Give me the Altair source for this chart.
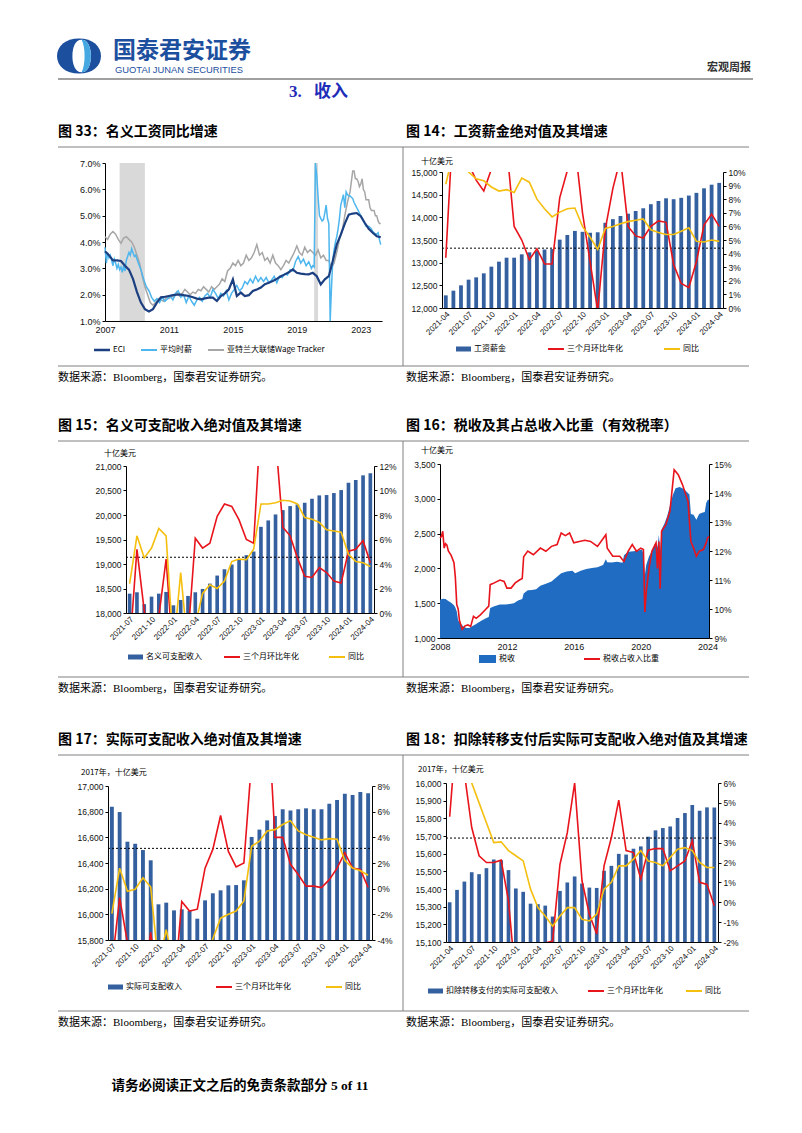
import altair as alt
import pandas as pd

# ======================= DATA =======================
# 图33 名义工资同比增速 (%)
eci_dates = [f"{y}-{m:02d}" for y in range(2007, 2025) for m in (1, 4, 7, 10)][:70]
eci_vals = [3.65, 3.50, 3.30, 3.30, 3.28, 3.10, 2.95, 2.60, 2.10, 1.70, 1.45, 1.36,
            1.45, 1.70, 1.90, 1.92, 1.95, 1.98, 2.00, 2.00, 1.97, 1.95, 1.90, 1.85,
            1.82, 1.86, 1.89, 1.89, 1.76, 1.95, 2.05, 2.20, 2.58, 1.95, 2.08, 1.95,
            1.98, 2.14, 2.20, 2.27, 2.40, 2.45, 2.52, 2.60, 2.70, 2.77, 2.85, 2.96,
            2.83, 2.80, 2.78, 2.77, 2.83, 2.70, 2.39, 2.58, 2.70, 3.28, 3.90, 4.28,
            4.70, 5.04, 5.08, 5.10, 4.98, 4.73, 4.50, 4.35, 4.22, 4.18]

ahe_dates = ([f"{y}-{m:02d}" for y in (2007, 2008) for m in range(1, 13)]
             + [f"{y}-{m:02d}" for y in range(2009, 2020) for m in (2, 4, 6, 8, 10, 12)]
             + [f"{y}-{m:02d}" for y in range(2020, 2024) for m in range(1, 13)]
             + ["2024-01", "2024-02", "2024-03", "2024-04"])
ahe_vals = [3.80, 3.20, 3.60, 3.40, 3.50, 3.30, 3.10, 3.35, 3.20, 3.00, 3.15, 2.95,
            3.05, 2.85, 3.10, 2.90, 3.30, 3.45, 3.60, 3.50, 3.75, 3.60, 3.45, 3.50,
            3.20, 2.95, 2.60, 2.30, 2.15, 1.90,
            1.75, 1.85, 1.70, 1.90, 1.75, 1.85,
            1.95, 1.80, 2.05, 2.15, 1.90, 2.00,
            1.70, 1.95, 1.75, 1.60, 1.80, 1.90,
            1.75, 1.95, 2.05, 1.90, 2.20, 2.05,
            1.85, 2.05, 1.95, 2.15, 1.80, 2.05,
            2.20, 2.35, 2.15, 2.25, 2.50, 2.40,
            2.60, 2.45, 2.70, 2.50, 2.65, 2.50,
            2.65, 2.45, 2.55, 2.70, 2.45, 2.70,
            2.65, 2.80, 2.75, 2.95, 2.90, 3.25,
            3.45, 3.20, 3.35, 3.10, 3.25, 3.00,
            3.10, 3.05, 7.00, 6.50, 5.70, 5.00, 4.90, 4.80, 4.85, 5.10, 5.40, 4.90,
            4.70, 1.00, 2.20, 3.30, 3.70, 4.00, 4.20, 4.50, 4.90, 5.40, 5.60, 5.80,
            5.30, 5.90, 5.80, 5.75, 5.75, 5.70, 5.65, 5.50, 5.40, 5.30, 5.20, 5.10,
            5.00, 4.90, 4.80, 4.70, 4.60, 4.60, 4.60, 4.55, 4.50, 4.40, 4.35, 4.30,
            4.30, 4.35, 4.10, 3.90]

wt_dates = ([f"{y}-{m:02d}" for y in range(2007, 2022) for m in (1, 3, 5, 7, 9, 11)]
            + ["2022-01", "2022-03", "2022-05", "2022-06", "2022-07", "2022-08", "2022-09",
               "2022-10", "2022-11", "2022-12", "2023-01", "2023-02", "2023-03", "2023-04",
               "2023-05", "2023-07", "2023-08", "2023-09", "2023-10", "2023-11", "2023-12",
               "2024-01", "2024-02", "2024-03", "2024-04"])
wt_vals = [4.2, 4.1, 4.3, 4.4, 4.3, 4.1, 3.95, 4.15, 4.2, 4.1, 4.0, 3.8,
           3.5, 3.2, 2.7, 2.3, 2.0, 1.7, 1.6, 1.7, 1.85, 1.8, 1.75, 1.9,
           1.85, 1.95, 1.9, 2.1, 1.95, 2.05, 2.2, 2.1, 2.0, 2.1, 2.05, 2.2,
           2.15, 2.3, 2.2, 2.1, 2.3, 2.2, 2.3, 2.4, 2.6, 2.5, 2.9, 3.0,
           3.2, 3.1, 3.3, 3.1, 3.2, 3.5, 3.3, 3.4, 3.6, 3.9, 3.5, 3.6,
           3.3, 3.4, 3.2, 3.5, 3.2, 3.1, 2.95, 3.1, 3.3, 3.2, 3.4, 3.6,
           3.85, 3.6, 3.5, 3.8, 3.6, 3.7, 3.6, 3.5, 3.7, 3.4, 3.5, 3.3,
           3.3, 3.0, 3.2, 3.6, 4.1, 4.4,
           5.0, 5.5, 5.9, 6.3, 6.7, 6.7, 6.4, 6.4, 6.3, 6.1,
           6.2, 6.4, 6.0, 5.9, 5.6, 5.6, 5.3, 5.2, 5.2, 5.2, 5.0,
           5.0, 4.8, 4.7, 4.7]
recession_start = ["2007-12", "2020-02"]
recession_end = ["2009-06", "2020-04"]
years33 = [2007, 2011, 2015, 2019, 2023]

all_months = [f"{y}-{m:02d}" for y in range(2021, 2025) for m in range(1, 13)]
months_2104 = all_months[3:40]   # 2021-04 .. 2024-04
months_2107 = all_months[6:40]   # 2021-07 .. 2024-04

# 图14 工资薪金 (十亿美元) + 增速 (%)
wage14 = [12279, 12382, 12500, 12625, 12676, 12765, 12912, 13022, 13110, 13110, 13184, 13228,
          13265, 13290, 13300, 13508, 13610, 13700, 13680, 13660, 13670, 13880, 13960, 14030,
          14080, 14140, 14200, 14290, 14360, 14420, 14400, 14430, 14480, 14540, 14640, 14720, 14760]
red14 = [3.7, 14.0, 13.0, 10.6, 9.4, 8.6, 10.2, 14.0, 12.0, 6.0, 5.0, 3.55,
         4.36, 3.24, 3.24, 8.1, 10.1, 12.0, 7.0, 3.4, -0.2, 5.8, 8.8, 11.0,
         6.0, 5.3, 5.15, 6.0, 6.4, 6.3, 3.2, 1.8, 1.5, 3.4, 6.1, 6.9, 6.0]
yoy14 = [9.1, 11.5, 10.8, 10.0, 9.5, 9.35, 8.9, 8.6, 8.7, 8.5, 9.55, 9.25,
         8.0, 7.3, 6.7, 7.05, 7.3, 7.35, 6.0, 5.2, 4.3, 5.85, 6.0, 6.2,
         6.35, 6.45, 6.55, 5.75, 5.55, 5.4, 5.4, 5.65, 5.9, 4.9, 4.85, 5.0, 4.9]
ref14 = 4.4

# 图15 名义可支配收入
inc15 = [18395, 18423, 18180, 18334, 18395, 18430, 18157, 18266, 18348, 18423, 18491, 18600,
         18764, 18893, 18989, 19091, 19180, 19255, 19759, 19889, 20011, 20100, 20182, 20216,
         20250, 20332, 20400, 20407, 20448, 20509, 20659, 20714, 20809, 20850]
red15 = [-3.0, 5.2, 0.2, -3.0, -0.3, 4.4, -4.0, -4.0, -2.0, 6.1, 5.3, 5.7,
         7.9, 8.9, 8.7, 7.6, 6.0, 5.7, 16.0, 18.0, 14.3, 7.0, 6.3, 4.5,
         3.0, 2.9, 3.7, 3.3, 2.6, 2.45, 5.05, 5.2, 5.9, 4.1]
yoy15 = [2.4, 6.3, 4.5, 5.3, 6.9, 6.3, -3.0, 3.3, -3.0, -1.0, 1.6, 2.3,
         2.0, 2.6, 4.2, 4.4, 4.35, 5.2, 8.9, 8.9, 9.0, 9.2, 9.15, 8.9,
         7.8, 7.65, 7.4, 6.8, 6.7, 6.6, 4.8, 4.2, 4.1, 3.8]
ref15 = 4.55

# 图16 税收 (十亿美元) 及有效税率 (%)
tax_dates = ["2008-01", "2008-03", "2008-05", "2008-07", "2008-09", "2008-11", "2008-12",
             "2009-01", "2009-02", "2009-04", "2009-06", "2009-08", "2009-10", "2009-12",
             "2010-02", "2010-04", "2010-07", "2010-10", "2010-12",
             "2011-01", "2011-04", "2011-08", "2011-12",
             "2012-03", "2012-06", "2012-09", "2012-12",
             "2013-01", "2013-04", "2013-07", "2013-10",
             "2014-01", "2014-05", "2014-09",
             "2015-01", "2015-04", "2015-08", "2015-12",
             "2016-02", "2016-06", "2016-10",
             "2017-02", "2017-06", "2017-10", "2017-12",
             "2018-01", "2018-04", "2018-08", "2018-12",
             "2019-01", "2019-04", "2019-08", "2019-12",
             "2020-02", "2020-03", "2020-04", "2020-05", "2020-07", "2020-09", "2020-11", "2020-12",
             "2021-01", "2021-02", "2021-03", "2021-04", "2021-06", "2021-08", "2021-10", "2021-12",
             "2022-02", "2022-05", "2022-08", "2022-10", "2022-12",
             "2023-01", "2023-03", "2023-05", "2023-07", "2023-09", "2023-11", "2023-12",
             "2024-01", "2024-02"]
tax_vals = [1550, 1565, 1560, 1530, 1505, 1470, 1440,
            1380, 1250, 1200, 1160, 1145, 1145, 1170,
            1190, 1215, 1250, 1285, 1300,
            1430, 1455, 1480, 1480,
            1490, 1500, 1540, 1560,
            1640, 1685, 1690, 1700,
            1750, 1780, 1810,
            1880, 1930, 1955, 1965,
            1930, 1965, 1990,
            2005, 2015, 2050, 2130,
            2090, 2085, 2095, 2080,
            2190, 2240, 2245, 2260,
            2270, 2200, 1900, 2050, 2170, 2250, 2340, 2380,
            2300, 2480, 2250, 2560, 2640, 2750, 2900, 3050,
            3150, 3170, 3140, 3100, 3060,
            2780, 2770, 2700, 2780, 2800, 2810, 2940,
            2980, 2990]
ratio_dates = ["2008-01", "2008-02", "2008-03", "2008-04", "2008-05", "2008-06", "2008-07",
               "2008-09", "2008-11", "2008-12",
               "2009-01", "2009-02", "2009-03", "2009-05", "2009-07", "2009-09", "2009-11",
               "2010-01", "2010-03", "2010-06", "2010-09", "2010-12",
               "2011-01", "2011-04", "2011-08", "2011-11",
               "2012-01", "2012-04", "2012-07", "2012-10", "2012-12",
               "2013-01", "2013-04", "2013-08",
               "2014-01", "2014-05", "2014-09",
               "2015-01", "2015-04", "2015-07", "2015-10",
               "2016-01", "2016-05", "2016-09",
               "2017-01", "2017-06", "2017-12",
               "2018-01", "2018-05", "2018-10",
               "2019-01", "2019-04", "2019-07", "2019-10",
               "2020-01", "2020-03", "2020-04", "2020-05", "2020-07", "2020-09", "2020-12",
               "2021-01", "2021-02", "2021-03", "2021-04", "2021-07", "2021-10",
               "2022-01", "2022-04", "2022-07", "2022-09", "2022-11",
               "2023-01", "2023-03", "2023-05", "2023-07", "2023-10", "2023-12",
               "2024-01", "2024-02"]
ratio_vals = [12.45, 12.5, 12.68, 12.1, 12.25, 12.2, 12.0, 11.85, 11.6, 11.1,
              10.15, 10.0, 9.6, 9.3, 9.42, 9.45, 9.4,
              9.75, 9.68, 9.8, 9.95, 10.1,
              10.84, 10.9, 11.0, 10.95,
              10.72, 10.72, 10.9, 11.0, 11.05,
              11.8, 12.0, 11.87,
              12.1, 11.99, 12.16,
              12.22, 12.62, 12.53, 12.62,
              12.28, 12.33, 12.37,
              12.33, 12.16, 12.56,
              12.1, 11.82, 11.82,
              11.64, 11.99, 12.22, 11.99,
              12.1, 12.05, 9.9, 10.6, 11.4, 11.99, 12.28,
              11.4, 12.33, 10.7, 12.68, 12.9, 13.37,
              14.8, 14.63, 14.29, 14.0, 13.7,
              12.33, 12.1, 11.82, 11.99, 12.05, 12.28,
              12.45, 12.5]
years16 = [2008, 2012, 2016, 2020, 2024]

# 图17 实际可支配收入 (2017年, 十亿美元)
real17 = [16839, 16797, 16566, 16550, 16501, 16421, 16078, 16091, 16031, 16039, 16026, 15966,
          16109, 16164, 16187, 16226, 16228, 16265, 16603, 16660, 16732, 16766, 16818, 16810,
          16818, 16826, 16818, 16818, 16862, 16891, 16940, 16930, 16953, 16943]
red17 = [-6.0, -0.7, -4.2, -8.0, -8.0, -3.4, -8.0, -8.0, -8.0, -1.0, -1.75, -1.6,
         1.6, 3.06, 5.7, 2.9, 1.7, 2.0, 10.0, 13.0, 15.0, 4.0, 4.0, 1.9,
         1.1, 0.2, 0.2, 0.08, 0.7, 1.6, 2.8, 1.6, 1.5, 0.1]
yoy17 = [-1.95, 1.6, -0.2, -0.05, 0.85, 0.13, -6.0, -3.2, -6.0, -6.0, -6.0, -6.0,
         -6.0, -3.9, -2.3, -2.0, -1.74, -0.96, 3.3, 3.7, 4.5, 4.6, 5.0, 5.3,
         4.5, 4.2, 4.0, 3.8, 3.9, 3.85, 2.2, 1.6, 1.4, 1.05]
ref17 = 3.14

# 图18 扣除转移支付后实际可支配收入
real18 = [15325, 15395, 15442, 15495, 15484, 15518, 15567, 15563, 15507, 15403, 15384, 15317,
          15314, 15306, 15244, 15389, 15437, 15471, 15431, 15408, 15406, 15503, 15531, 15599,
          15595, 15628, 15641, 15696, 15732, 15745, 15754, 15802, 15830, 15875, 15843, 15862, 15862]
red18 = [4.3, 9.0, 6.5, 3.76, 2.34, 2.0, 2.0, 2.12, 0.07, -4.0, -4.0, -3.5,
         -2.5, -2.05, -1.95, 1.9, 3.5, 6.0, 1.08, -0.6, -1.6, 1.83, 3.26, 5.14,
         2.6, 2.5, 1.16, 2.62, 2.7, 2.7, 1.58, 1.83, 2.08, 3.1, 1.0, 0.9, -0.18]
yoy18 = [12.0, 10.0, 8.0, 6.0, 5.0, 4.0, 3.0, 3.04, 2.6, 2.34, 2.08, 0.66,
         -0.27, -0.69, -1.2, -0.69, -0.27, -0.27, -0.86, -0.94, -0.6, 0.66, 1.0, 1.83,
         1.83, 2.17, 2.6, 2.08, 2.0, 1.83, 2.25, 2.67, 2.75, 2.6, 2.0, 1.75, 1.75]
ref18 = 3.23

# ======================= STYLE / GEOMETRY =======================
SANS = "Liberation Sans"
CJK = "Noto Sans CJK SC"
SERIF = "Liberation Serif, Noto Sans CJK SC"
NAVY, LBLUE, GREY = "#1B3F80", "#4DB6EE", "#A6A6A6"
BAR, RED, YEL, AREA = "#35609F", "#E8141C", "#F5BF0F", "#1F6CC2"
HDR_BLUE = "#1D4F9F"
DUMMY = pd.DataFrame({"z": [0]})

# plot-area boxes on the page: x, y, width, height
BOX = {"c33": (104, 162, 277, 158), "c14": (441, 171, 281, 136),
       "c15": (125, 465, 248, 147), "c16": (439, 463, 269, 174),
       "c17": (107, 785, 264, 154), "c18": (445, 782, 272, 159)}
ROWS = [("c33", "c14", 171), ("c15", "c16", 465), ("c17", "c18", 782)]   # row tops (page)
LEFT_W = max(BOX[k][0] - 8 + BOX[k][2] for k in ("c33", "c15", "c17"))

GEOM = {}
for kl, kr, rt in ROWS:
    for k, x0 in ((kl, 8), (kr, 8 + LEFT_W)):
        bx, by, bw, bh = BOX[k]
        xoff = bx - x0
        ytop = by - rt
        GEOM[k] = dict(xoff=xoff, ytop=ytop, w=bw, h=bh, cw=xoff + bw, ch=ytop + bh)


def dt(lst):
    return pd.to_datetime([s + "-01" for s in lst])


def pct_axis(vals):
    return alt.Axis(values=vals, orient="right", labelExpr="datum.value + '%'",
                    title=None, labelOverlap=False)


def combo(key, months, bars, red, yoy, ref, ldom, lvals, rdom, rvals):
    g = GEOM[key]
    df = pd.DataFrame({"m": months, "bar": bars, "red": red, "yoy": yoy})
    xenc = alt.X("m:N", sort=months, title=None,
                 scale=alt.Scale(range=[g["xoff"], g["xoff"] + g["w"]],
                                 paddingInner=0.5, paddingOuter=0.25),
                 axis=alt.Axis(values=months[::3], labelAngle=-45, ticks=False,
                               labelFontSize=8, labelPadding=2, labelOverlap=False))
    bar = alt.Chart(df).mark_bar(color=BAR).encode(
        x=xenc,
        y=alt.Y("bar:Q", title=None,
                scale=alt.Scale(domain=ldom, nice=False, zero=False, range=[g["ch"], g["ytop"]]),
                axis=alt.Axis(values=lvals, format=",.0f", labelOverlap=False,
                              offset=-g["xoff"])),
        y2=alt.datum(ldom[0]))
    rscale = alt.Scale(domain=rdom, nice=False, zero=False, range=[g["ch"], g["ytop"]])
    refl = alt.Chart(pd.DataFrame({"v": [ref]})).mark_rule(
        color="#000", strokeDash=[2, 2], strokeWidth=1).encode(
        x=alt.value(g["xoff"]), x2=alt.value(g["xoff"] + g["w"]),
        y=alt.Y("v:Q", scale=rscale, axis=pct_axis(rvals)))
    lred = alt.Chart(df).mark_line(color=RED, clip=True, strokeWidth=1.6).encode(
        x=xenc, y=alt.Y("red:Q", scale=rscale, axis=pct_axis(rvals)))
    lyel = alt.Chart(df).mark_line(color=YEL, clip=True, strokeWidth=1.6).encode(
        x=xenc, y=alt.Y("yoy:Q", scale=rscale, axis=pct_axis(rvals)))
    right = alt.layer(refl, lred, lyel)
    return alt.layer(bar, right).resolve_scale(y="independent").properties(
        width=g["cw"], height=g["ch"])


# ---------- 图33 ----------
g33 = GEOM["c33"]
rec_df = pd.DataFrame({"a": dt(recession_start), "b": dt(recession_end)})
rec_df["b"] = rec_df["b"] + pd.offsets.MonthEnd(0)
ax33 = alt.Axis(values=[alt.DateTime(year=y, month=1, date=1) for y in years33], format="%Y",
                ticks=False, labelPadding=4, labelFontSize=9, labelFlush=False,
                labelOverlap=False, title=None)
sc33 = alt.Scale(domain=[alt.DateTime(year=2007, month=1, date=1),
                         alt.DateTime(year=2024, month=4, date=30)],
                 range=[g33["xoff"], g33["xoff"] + g33["w"]])
ys33 = alt.Scale(domain=[1, 7], nice=False, zero=False, range=[g33["ch"], g33["ytop"]])
yax33 = alt.Axis(values=[1, 2, 3, 4, 5, 6, 7], title=None, labelFontSize=9,
                 labelExpr="format(datum.value, '.1f') + '%'", offset=-g33["xoff"])
rect33 = alt.Chart(rec_df).mark_rect(color="#D9D9D9").encode(
    x=alt.X("a:T", scale=sc33, axis=ax33), x2="b:T",
    y=alt.value(g33["ytop"]), y2=alt.value(g33["ch"]))


def line33(dates, vals, color, width):
    return alt.Chart(pd.DataFrame({"d": dt(dates), "v": vals})).mark_line(
        color=color, strokeWidth=width).encode(
        x=alt.X("d:T", scale=sc33, axis=ax33), y=alt.Y("v:Q", scale=ys33, axis=yax33))


c33 = alt.layer(rect33, line33(wt_dates, wt_vals, GREY, 1.5),
                line33(ahe_dates, ahe_vals, LBLUE, 1.5),
                line33(eci_dates, eci_vals, NAVY, 2.2)).properties(
    width=g33["cw"], height=g33["ch"])

# ---------- combos ----------
c14 = combo("c14", months_2104, wage14, red14, yoy14, ref14, [12000, 15000],
            list(range(12000, 15001, 500)), [0, 10], list(range(0, 11)))
c15 = combo("c15", months_2107, inc15, red15, yoy15, ref15, [18000, 21000],
            list(range(18000, 21001, 500)), [0, 12], list(range(0, 13, 2)))
c17 = combo("c17", months_2107, real17, red17, yoy17, ref17, [15800, 17000],
            list(range(15800, 17001, 200)), [-4, 8], list(range(-4, 9, 2)))
c18 = combo("c18", months_2104, real18, red18, yoy18, ref18, [15100, 16000],
            list(range(15100, 16001, 100)), [-2, 6], list(range(-2, 7)))

# ---------- 图16 ----------
g16 = GEOM["c16"]
sc16 = alt.Scale(domain=[alt.DateTime(year=2008, month=1, date=1),
                         alt.DateTime(year=2024, month=2, date=1)],
                 range=[g16["xoff"], g16["xoff"] + g16["w"]])
ax16 = alt.Axis(values=[alt.DateTime(year=y, month=1, date=1) for y in years16], format="%Y",
                ticks=False, labelPadding=4, labelFontSize=9, labelFlush=False,
                labelOverlap=False, title=None)
area16 = alt.Chart(pd.DataFrame({"d": dt(tax_dates), "v": tax_vals})).mark_area(
    color=AREA, opacity=1).encode(
    x=alt.X("d:T", scale=sc16, axis=ax16),
    y=alt.Y("v:Q", scale=alt.Scale(domain=[1000, 3500], nice=False, zero=False,
                                   range=[g16["ch"], g16["ytop"]]),
            axis=alt.Axis(values=list(range(1000, 3501, 500)), format=",.0f", title=None,
                          offset=-g16["xoff"])),
    y2=alt.datum(1000))
line16 = alt.Chart(pd.DataFrame({"d": dt(ratio_dates), "v": ratio_vals})).mark_line(
    color=RED, strokeWidth=1.6).encode(
    x=alt.X("d:T", scale=sc16, axis=ax16),
    y=alt.Y("v:Q", scale=alt.Scale(domain=[9, 15], nice=False, zero=False,
                                   range=[g16["ch"], g16["ytop"]]),
            axis=pct_axis(list(range(9, 16)))))
c16 = alt.layer(area16, line16).resolve_scale(y="independent").properties(
    width=g16["cw"], height=g16["ch"])


# ======================= PAGE DECORATION =======================
def T(txt, x, y, size=8.0, color="#000", bold=False, align="left", font=CJK):
    return alt.Chart(DUMMY).mark_text(
        text=txt, align=align, baseline="middle", fontSize=size, color=color,
        fontWeight="bold" if bold else "normal", font=font).encode(
        x=alt.value(x - 8), y=alt.value(y - 8))


def L(x1, x2, y1, y2, color="#000", w=1.0):
    return alt.Chart(DUMMY).mark_rule(color=color, strokeWidth=w).encode(
        x=alt.value(x1 - 8), x2=alt.value(x2 - 8), y=alt.value(y1 - 8), y2=alt.value(y2 - 8))


def RB(x1, x2, y1, y2, color):
    return alt.Chart(DUMMY).mark_rect(color=color).encode(
        x=alt.value(x1 - 8), x2=alt.value(x2 - 8), y=alt.value(y1 - 8), y2=alt.value(y2 - 8))


def P(path, x, y, size, color):
    return alt.Chart(DUMMY).mark_point(shape=path, size=size, filled=True, color=color,
                                       opacity=1, strokeWidth=0).encode(
        x=alt.value(x - 8), y=alt.value(y - 8))


LOGO_OUT = "M0,-0.8 C-0.62,-0.8 -1,-0.45 -1,0 C-1,0.45 -0.62,0.8 0,0.8 C0.62,0.8 1,0.45 1,0 C1,-0.45 0.62,-0.8 0,-0.8 Z"
LOGO_MID = "M0.12,-0.74 C-0.18,-0.74 -0.3,-0.38 -0.3,0 C-0.3,0.38 -0.18,0.74 0.12,0.74 C0.42,0.74 0.54,0.38 0.54,0 C0.54,-0.38 0.42,-0.74 0.12,-0.74 Z"
LOGO_IN = "M0.12,-0.74 C0.42,-0.74 0.54,-0.38 0.54,0 C0.54,0.38 0.42,0.74 0.12,0.74 C0.3,0.4 0.3,-0.4 0.12,-0.74 Z"

SRC = "数据来源：Bloomberg，国泰君安证券研究。"
RULE = "#808080"
deco_items = [
    P(LOGO_OUT, 78, 55, 1936, HDR_BLUE), P(LOGO_MID, 78, 55, 1936, "#FFFFFF"),
    P(LOGO_IN, 78, 55, 1936, "#45A8E0"),
    T("国泰君安证券", 112, 50, 23, HDR_BLUE, True),
    T("GUOTAI JUNAN SECURITIES", 114, 68.5, 9.4, HDR_BLUE, False, "left", SANS),
    T("宏观周报", 750, 67, 11, "#333", True, "right"),
    L(57, 752, 78, 78, RULE, 1.5),
    T("3.", 288, 91, 17, "#1F2DB8", True, "left", SERIF),
    T("收入", 313, 91, 17, "#1F2DB8", True),
]
rows_meta = [
    (131, 146, 365, 377, "图 33：名义工资同比增速", "图 14：工资薪金绝对值及其增速"),
    (425, 440, 676, 688, "图 15：名义可支配收入绝对值及其增速", "图 16：税收及其占总收入比重（有效税率）"),
    (739, 754, 1010, 1022, "图 17：实际可支配收入绝对值及其增速", "图 18：扣除转移支付后实际可支配收入绝对值及其增速"),
]
for ty, top, bot, sy, tl, tr in rows_meta:
    deco_items += [T(tl, 57, ty, 14, "#000", True), T(tr, 405, ty, 14, "#000", True),
                   L(57, 748, top, top, RULE, 1), L(57, 748, bot, bot, RULE, 1),
                   L(402, 402, top, bot, RULE, 1),
                   T(SRC, 57, sy, 11, "#000", False, "left", SERIF),
                   T(SRC, 405, sy, 11, "#000", False, "left", SERIF)]

deco_items += [T("十亿美元", 420, 161, 8), T("十亿美元", 103, 453, 8), T("十亿美元", 420, 450, 8),
               T("2017年，十亿美元", 80, 772, 8), T("2017年，十亿美元", 417, 769, 8)]


def leg_line(x, y, color, label, w=2.0):
    return [L(x, x + 16, y, y, color, w), T(label, x + 19, y, 8)]


def leg_bar(x, y, label, color=BAR, hh=2.5, ww=15):
    return [RB(x, x + ww, y - hh, y + hh, color), T(label, x + ww + 3, y, 8)]


deco_items += leg_line(93, 349, NAVY, "ECI", 2.5) + leg_line(140, 349, LBLUE, "平均时薪") \
    + leg_line(207, 349, GREY, "亚特兰大联储Wage Tracker")
deco_items += leg_bar(455, 348, "工资薪金") + leg_line(547, 348, RED, "三个月环比年化") \
    + leg_line(663, 348, YEL, "同比")
deco_items += leg_bar(127, 656, "名义可支配收入") + leg_line(223, 656, RED, "三个月环比年化") \
    + leg_line(328, 656, YEL, "同比")
deco_items += leg_bar(478, 658, "税收", AREA, 4, 17) + leg_line(583, 658, RED, "税收占收入比重")
deco_items += leg_bar(107, 986, "实际可支配收入") + leg_line(215, 986, RED, "三个月环比年化") \
    + leg_line(325, 986, YEL, "同比")
deco_items += leg_bar(427, 990, "扣除转移支付的实际可支配收入") + leg_line(587, 990, RED, "三个月环比年化") \
    + leg_line(685, 990, YEL, "同比")
deco_items += [T("请务必阅读正文之后的免责条款部分 5 of 11", 239, 1085, 13.5, "#000", True,
                 "center", SERIF)]

deco = alt.layer(*deco_items).properties(width=1, height=1)


# ======================= LAYOUT (2-column grid, each-aligned) =======================
def spacer(w, h):
    return alt.Chart(DUMMY).mark_point(opacity=0, size=1).encode(
        x=alt.value(0), y=alt.value(0)).properties(width=max(1, int(w)), height=max(1, int(h)))


charts = {"c33": c33, "c14": c14, "c15": c15, "c16": c16, "c17": c17, "c18": c18}
cells = []
cur = 0  # current grid y in chart coords
for i, (kl, kr, rt) in enumerate(ROWS):
    gap = (rt - 8) - cur
    cells += [deco if i == 0 else spacer(1, 1), spacer(1, gap)]
    cur += gap
    cells += [charts[kl], charts[kr]]
    cur += max(GEOM[kl]["ch"], GEOM[kr]["ch"])

chart = alt.concat(*cells, columns=2, spacing=0, bounds="flush", align="each").properties(
    padding=0
).configure_view(stroke=None).configure_axis(
    grid=False, domainColor="#000", tickColor="#000", tickSize=3, labelFont=SANS,
    labelFontSize=8.5, labelColor="#111", domainWidth=1, titleFontSize=8)

chart.save("out.html", embed_options={"renderer": "svg", "actions": False})
